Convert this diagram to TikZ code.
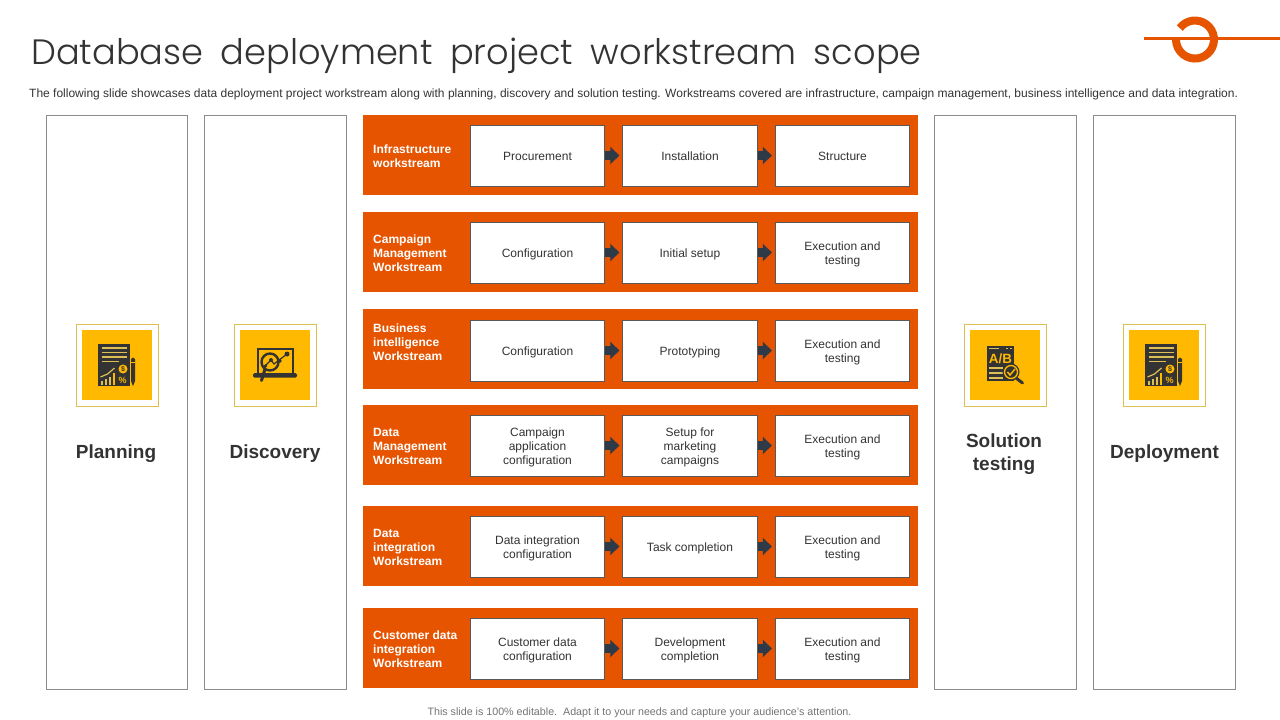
\documentclass[tikz,border=0pt]{standalone}
\usepackage{fontspec}
\setmainfont{Liberation Sans}
\newfontfamily\titlefont[UprightFont=* Light,WordSpace=1.8]{Poppins}
\usetikzlibrary{arrows.meta,positioning}

\definecolor{Rust}{HTML}{E65400}
\definecolor{Amber}{HTML}{FFB900}
\definecolor{Pale}{HTML}{DDBF55}
\definecolor{Ink}{HTML}{333333}
\definecolor{Slate}{HTML}{2F3A48}

% document with chart and pencil
\newcommand{\PlanIcon}[1]{
	\begin{scope}[shift={(#1)}]
		\fill [Ink] (-18.5,-21) rectangle (13.5,21);
		\draw [Pale, line width=1.3pt] (-15,-17) to (10,-17);
		\draw [Pale, line width=1.3pt] (-15,-12.5) to (10,-12.5);
		\draw [Pale, line width=1.3pt] (-15,-8) to (10,-8);
		\draw [Pale, line width=1.3pt] (-15,-3.5) to (2,-3.5);
		\fill [Amber] (6.5,4) circle (4.5);
		\node [inner sep=0pt, font=\fontsize{7}{7}\bfseries\selectfont, text=Ink] at (6.5,4) {\$};
		\node [inner sep=0pt, font=\fontsize{9}{9}\bfseries\selectfont, text=Amber] at (6,15.5) {\%};
		\draw [Pale, line width=1.3pt] (-14.5,20) to (-14.5,16);
		\draw [Pale, line width=1.3pt] (-10.5,20) to (-10.5,14);
		\draw [Pale, line width=1.3pt] (-6.5,20) to (-6.5,12);
		\draw [Amber, line width=1.6pt] (-2.5,20) to (-2.5,8);
		\draw [Pale, line width=1.2pt] (-16,12) to (-9,9) to (-2,3);
		\fill [Ink] (14.5,-6) -- (16.5,-7.5) -- (18.5,-6) -- (18.5,16) -- (16.5,21) -- (14.5,16) -- cycle;
		\draw [Amber, line width=.6pt] (14.5,-3) to (18.5,-3);
	\end{scope}
}
% laptop with magnifier
\newcommand{\LaptopIcon}[1]{
	\begin{scope}[shift={(#1)}]
		\draw [Ink, line width=2.2pt] (-17,8) to (-17,-16) to (18,-16) to (18,8);
		\fill [Ink, rounded corners=1.5pt] (-22,8) rectangle (22,12.5);
		\draw [Ink, line width=2.4pt, fill=Amber] (-5,-3) circle (8.5);
		\draw [Ink, line width=3pt, line cap=round] (-10,4) to (-13.5,15.5);
		\draw [Ink, line width=1.2pt] (-10,1) to (-4,-5) to (-1,-1) to (12,-11);
		\fill [Ink] (-9.5,1) circle (1.8);
		\fill [Ink] (-4,-5) circle (2);
		\fill [Ink] (12,-11) circle (2.5);
		\fill [Ink] (5,-4) circle (1.8);
	\end{scope}
}
% A/B page with magnifier
\newcommand{\TestIcon}[1]{
	\begin{scope}[shift={(#1)}]
		\fill [Ink] (-18,-19) rectangle (9,16);
		\draw [Pale, line width=1.3pt] (-16,-16.5) to (-6,-16.5);
		\draw [Pale, line width=1.3pt] (1,-16.5) to (3,-16.5);
		\draw [Pale, line width=1.3pt] (5,-16.5) to (7,-16.5);
		\node [inner sep=0pt, font=\fontsize{13.4}{14}\bfseries\selectfont, text=Amber] at (-4.5,-6) {A/B};
		\draw [Pale, line width=1.3pt] (-16,3) to (-2,3);
		\draw [Pale, line width=1.3pt] (-16,8) to (-2,8);
		\draw [Pale, line width=1.3pt] (-16,13) to (-2,13);
		\draw [Ink, line width=3pt, line cap=round] (11,13) to (17.5,18);
		\fill [Ink] (6,7) circle (8.5);
		\draw [Amber, line width=1.3pt] (6,7) circle (6.5);
		\draw [Amber, line width=1.5pt] (2.5,7) to (5,10) to (10,4);
	\end{scope}
}

\begin{document}
\begin{tikzpicture}[x=1pt, y=-1pt]
		\tikzstyle{Column}	= [draw=gray!90, line width=.8pt, fill=white, minimum width=142pt, minimum height=574pt, inner sep=0pt]
		\tikzstyle{Band}	= [fill=Rust, minimum width=555pt, minimum height=80pt, inner sep=0pt]
		\tikzstyle{Step}	= [draw=black!65, line width=.8pt, fill=white, minimum width=134.5pt, minimum height=61pt, inner sep=0pt]
		\tikzstyle{StepText}	= [inner sep=0pt, yshift=-2pt, align=center, text=Ink, font=\fontsize{12}{14}\selectfont, execute at begin node={\rule[-3pt]{0pt}{10pt}}]
		\tikzstyle{BandText}	= [anchor=west, inner sep=0pt, align=left, text=white, font=\fontsize{12}{14}\bfseries\selectfont]
		\tikzstyle{Phase}	= [inner sep=0pt, align=center, text=Ink, font=\fontsize{19}{23}\bfseries\selectfont]
		\tikzstyle{Frame}	= [draw=Pale, line width=.8pt, fill=white, minimum size=82pt, inner sep=0pt]
		\tikzstyle{Tile}	= [fill=Amber, minimum size=70pt, inner sep=0pt]
		\tikzstyle{Flow}	= [draw=Slate, line width=9pt, shorten >=3pt, -{Triangle[length=9pt, width=17pt]}]

		\useasboundingbox (0,0) rectangle (1280,720);

		\node (title) at (31,64.5) [anchor=base west, inner sep=0pt, text=Ink, font=\fontsize{35.2}{40}\titlefont] {Database deployment project workstream scope};
		\node (intro) at (29,94) [anchor=west, inner sep=0pt, text=Ink, font=\fontsize{12}{14}\selectfont] {The following slide showcases data deployment project workstream along with planning, discovery and solution testing. Workstreams covered are infrastructure, campaign management, business intelligence and data integration.};
		\node (note) at (639.5,712.5) [inner sep=0pt, text=black!55, font=\fontsize{10.7}{12}\selectfont] {This slide is 100\% editable.\ \ Adapt it to your needs and capture your audience's attention.};

		% logo
		\draw [Rust, line width=8pt] (1179.8,28.1) arc [start angle=143, end angle=-180, radius=19pt];
		\draw [Rust, line width=3pt] (1144,38) -- (1280,38);

		% side columns
		\node (c1) at (116.5,402) [Column, minimum width=141pt] {};
		\node (c2) at (275.5,402) [Column] {};
		\node (c3) at (1005.5,402) [Column] {};
		\node (c4) at (1164,402) [Column] {};

		\node (f1) at (117,365.5) [Frame] {};
		\node (f2) at (275.5,365.5) [Frame] {};
		\node (f3) at (1005.5,365.5) [Frame] {};
		\node (f4) at (1164.5,365.5) [Frame] {};
		\node (t1) at (116.5,365) [Tile] {};
		\node (t2) at (275,365) [Tile] {};
		\node (t3) at (1005,365) [Tile] {};
		\node (t4) at (1163.5,365) [Tile] {};
		\PlanIcon{116.5,365}
		\LaptopIcon{275,365}
		\TestIcon{1005,365}
		\PlanIcon{1163.5,365}

		\node (p1) at (116,454) [Phase] {Planning};
		\node (p2) at (275,454) [Phase] {Discovery};
		\node (p3) at (1004,454) [Phase] {Solution\\ testing};
		\node (p4) at (1164.5,454) [Phase] {Deployment};

		% workstream bands
		\node (w1) at (640.5,155) [Band] {};
		\node (w2) at (640.5,252) [Band] {};
		\node (w3) at (640.5,348.5) [Band] {};
		\node (w4) at (640.5,445) [Band] {};
		\node (w5) at (640.5,546) [Band] {};
		\node (w6) at (640.5,648) [Band] {};

		\node (l1) at (373,156) [BandText] {Infrastructure\\workstream};
		\node (l2) at (373,253) [BandText] {Campaign\\Management\\Workstream};
		\node (l3) at (373,342) [BandText] {Business\\intelligence\\Workstream};
		\node (l4) at (373,446) [BandText] {Data\\Management\\Workstream};
		\node (l5) at (373,547) [BandText] {Data\\integration\\Workstream};
		\node (l6) at (373,649) [BandText] {Customer data\\integration\\Workstream};

		\node (b11) at (537.5,155.5) [Step, label={[StepText]center:{Procurement}}] {};
		\node (b12) at (690,155.5) [Step, label={[StepText]center:{Installation}}] {};
		\node (b13) at (842.5,155.5) [Step, label={[StepText]center:{Structure}}] {};
		\node (b21) at (537.5,252.5) [Step, label={[StepText]center:{Configuration}}] {};
		\node (b22) at (690,252.5) [Step, label={[StepText]center:{Initial setup}}] {};
		\node (b23) at (842.5,252.5) [Step, label={[StepText]center:{Execution and\\testing}}] {};
		\node (b31) at (537.5,350.5) [Step, label={[StepText]center:{Configuration}}] {};
		\node (b32) at (690,350.5) [Step, label={[StepText]center:{Prototyping}}] {};
		\node (b33) at (842.5,350.5) [Step, label={[StepText]center:{Execution and\\testing}}] {};
		\node (b41) at (537.5,445.5) [Step, label={[StepText]center:{Campaign\\application\\configuration}}] {};
		\node (b42) at (690,445.5) [Step, label={[StepText]center:{Setup for\\marketing\\campaigns}}] {};
		\node (b43) at (842.5,445.5) [Step, label={[StepText]center:{Execution and\\testing}}] {};
		\node (b51) at (537.5,546.5) [Step, label={[StepText]center:{Data integration\\configuration}}] {};
		\node (b52) at (690,546.5) [Step, label={[StepText]center:{Task completion}}] {};
		\node (b53) at (842.5,546.5) [Step, label={[StepText]center:{Execution and\\testing}}] {};
		\node (b61) at (537.5,648.5) [Step, label={[StepText]center:{Customer data\\configuration}}] {};
		\node (b62) at (690,648.5) [Step, label={[StepText]center:{Development\\completion}}] {};
		\node (b63) at (842.5,648.5) [Step, label={[StepText]center:{Execution and\\testing}}] {};

		\draw [Flow] (b11) to (b12);
		\draw [Flow] (b12) to (b13);
		\draw [Flow] (b21) to (b22);
		\draw [Flow] (b22) to (b23);
		\draw [Flow] (b31) to (b32);
		\draw [Flow] (b32) to (b33);
		\draw [Flow] (b41) to (b42);
		\draw [Flow] (b42) to (b43);
		\draw [Flow] (b51) to (b52);
		\draw [Flow] (b52) to (b53);
		\draw [Flow] (b61) to (b62);
		\draw [Flow] (b62) to (b63);
	\end{tikzpicture}
\end{document}
